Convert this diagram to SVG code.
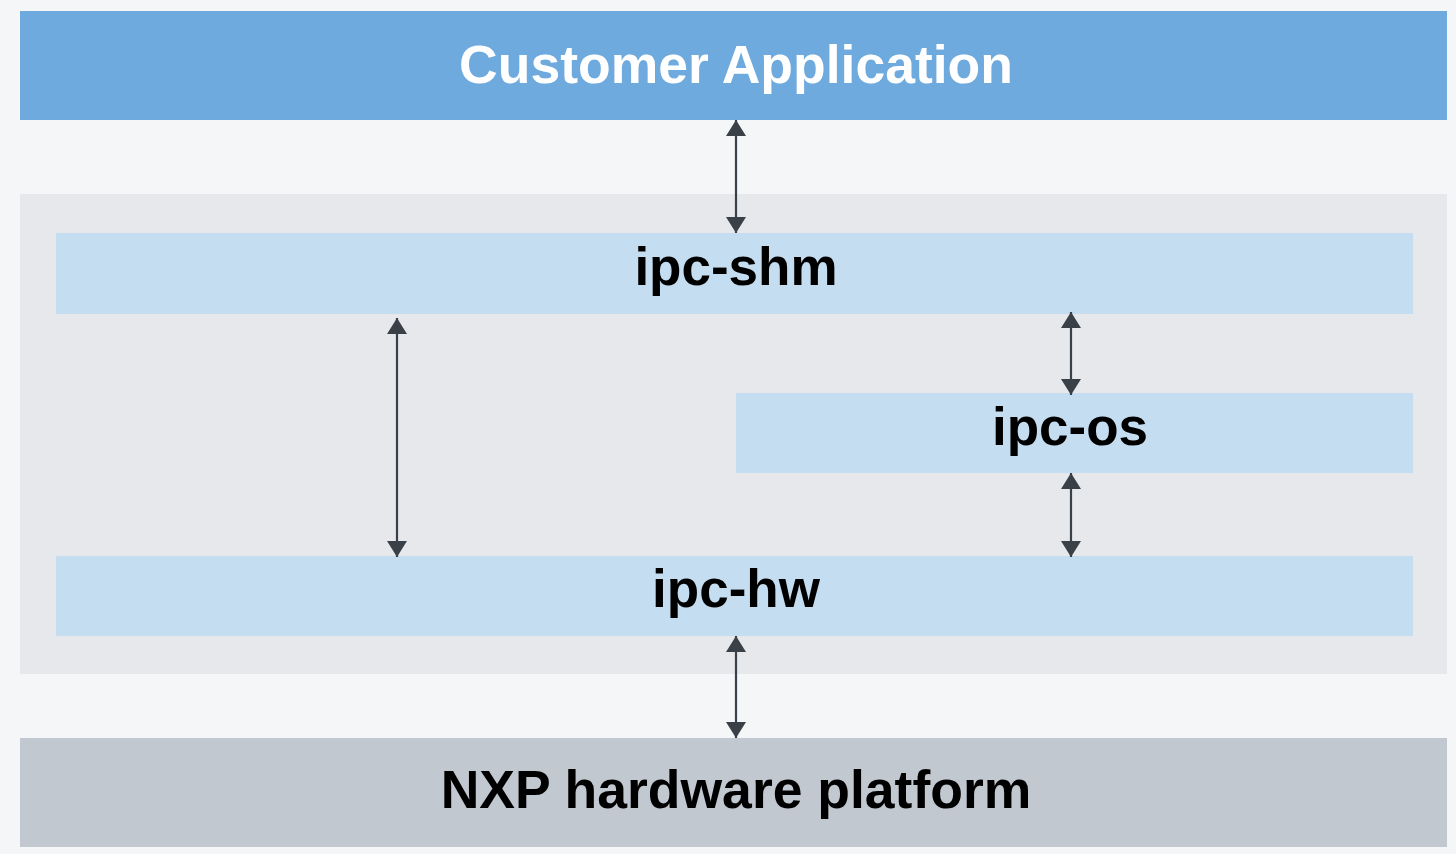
<svg xmlns="http://www.w3.org/2000/svg" width="1456" height="854" viewBox="0 0 1456 854">
<defs>
<style>
.lbl{font-family:"Liberation Sans",Arial,sans-serif;font-weight:bold;font-size:53px;text-anchor:middle;fill:#000}
.inner{fill:#c5ddf0}
.conn line{stroke:#3a4047;stroke-width:2.2;marker-start:url(#ah);marker-end:url(#ah)}
</style>
<marker id="ah" markerUnits="userSpaceOnUse" markerWidth="17" markerHeight="20" refX="16" refY="10" orient="auto-start-reverse" viewBox="0 0 17 20">
<path d="M0,0 L16,10 L0,20 z" fill="#3a4047"/>
</marker>
</defs>
<rect x="0" y="0" width="1456" height="854" fill="#f5f6f8"/>
<g id="container"><rect x="20" y="194" width="1427" height="480" fill="#e6e8ec"/></g>
<g id="customer-app">
<rect x="20" y="11" width="1427" height="109" fill="#6eaade"/>
<text class="lbl" x="736" y="83" style="fill:#fff;font-size:53.5px">Customer Application</text>
</g>
<g id="ipc-shm">
<rect class="inner" x="56" y="233" width="1357" height="81"/>
<text class="lbl" x="736" y="285">ipc-shm</text>
</g>
<g id="ipc-os">
<rect class="inner" x="736" y="393" width="677" height="80"/>
<text class="lbl" x="1070" y="445">ipc-os</text>
</g>
<g id="ipc-hw">
<rect class="inner" x="56" y="556" width="1357" height="80"/>
<text class="lbl" x="736" y="607">ipc-hw</text>
</g>
<g id="nxp-hw">
<rect x="20" y="738" width="1427" height="109" fill="#c1c8d0"/>
<text class="lbl" x="736" y="808" style="font-size:53.5px">NXP hardware platform</text>
</g>
<g id="connectors" class="conn">
<line x1="736" y1="120" x2="736" y2="233"/>
<line x1="397" y1="318" x2="397" y2="557"/>
<line x1="1071" y1="312" x2="1071" y2="395"/>
<line x1="1071" y1="473" x2="1071" y2="557"/>
<line x1="736" y1="636" x2="736" y2="738"/>
</g>
</svg>
